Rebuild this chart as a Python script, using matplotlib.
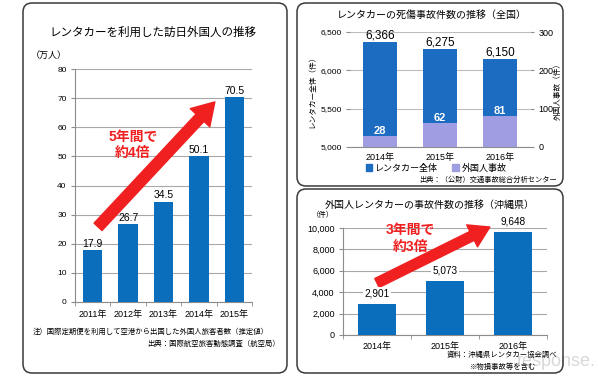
import numpy as np
import matplotlib.pyplot as plt
from matplotlib.patches import FancyBboxPatch, Patch
from matplotlib.transforms import Affine2D
from matplotlib.ticker import FuncFormatter

plt.rcParams['font.family'] = ['Liberation Sans', 'Noto Sans CJK JP', 'DejaVu Sans']

# データ
years_visit = ['2011年', '2012年', '2013年', '2014年', '2015年']
visitors = [17.9, 26.7, 34.5, 50.1, 70.5]  # 万人

years_acc = ['2014年', '2015年', '2016年']
rental_total = [6366, 6275, 6150]   # レンタカー全体
foreign_acc = [28, 62, 81]          # 外国人事故

years_oki = ['2014年', '2015年', '2016年']
okinawa = [2901, 5073, 9648]

W, H = 598, 382
fig = plt.figure(figsize=(W / 100, H / 100), dpi=100)
pix = Affine2D().scale(1 / W, -1 / H).translate(0, 1) + fig.transFigure  # ピクセル座標(左上原点)


def add_ax(x0, y0, x1, y1):
    return fig.add_axes([x0 / W, 1 - y1 / H, (x1 - x0) / W, (y1 - y0) / H])


def ftext(x, y, s, **kw):
    fig.text(x, y, s, transform=pix, **kw)


# 枠
for x0, y0, x1, y1 in [(23, 3, 287, 373), (297, 3, 563, 186), (297, 189, 563, 373)]:
    fig.patches.append(FancyBboxPatch((x0, y0), x1 - x0, y1 - y0,
                                      boxstyle='round,pad=0,rounding_size=9',
                                      transform=pix, fill=False, ec='#3a3a3a', lw=1.1))

red = '#f02020'
arrow_style = 'simple,head_length=1.3,head_width=1.6,tail_width=0.65'

# ---- 左: レンタカーを利用した訪日外国人の推移 ----
ax1 = add_ax(75, 69, 252, 302)
x1 = np.arange(len(visitors))
ax1.bar(x1, visitors, width=0.55, color='#0a6ebd', zorder=3)
ax1.set_xlim(-0.5, len(visitors) - 0.5)
ax1.set_ylim(0, 80)
ax1.set_yticks(range(0, 81, 10))
ax1.set_xticks(x1, years_visit)
ax1.set_xticks(np.arange(-0.5, len(visitors), 1), minor=True)
ax1.grid(axis='y', color='#a8a8a8', lw=0.8, zorder=0)
ax1.tick_params(axis='x', which='major', length=0, pad=6, labelsize=6.5)
ax1.tick_params(axis='x', which='minor', length=3, color='#8c8c8c')
ax1.tick_params(axis='y', length=3, color='#8c8c8c', labelsize=6, pad=3)
for s in ['top', 'right']:
    ax1.spines[s].set_visible(False)
for s in ['left', 'bottom']:
    ax1.spines[s].set_color('#8c8c8c')
for xi, v in zip(x1, visitors):
    ax1.text(xi, v + 0.4, f'{v}', ha='center', va='bottom', fontsize=7.5)
ax1.annotate('', xy=(3.45, 68.7), xytext=(0.15, 25.8), annotation_clip=False,
             arrowprops=dict(arrowstyle=arrow_style, color=red, mutation_scale=12,
                             shrinkA=0, shrinkB=0))
ax1.text(1.14, 53.8, '5年間で\n約4倍', color=red, fontsize=10, ha='center', va='center',
         linespacing=1.2, fontweight='bold')

ftext(153, 33, 'レンタカーを利用した訪日外国人の推移', fontsize=8.3, ha='center', va='center')
ftext(31, 55, '（万人）', fontsize=6.5, ha='left', va='center')
ftext(33, 332, '注）国際定期便を利用して空港から出国した外国人旅客者数（推定値）',
      fontsize=5.3, ha='left', va='center')
ftext(280, 344, '出典：国際航空旅客動態調査（航空局）', fontsize=5.3, ha='right', va='center')

# ---- 右上: レンタカーの死傷事故件数の推移（全国） ----
ax2 = add_ax(350, 32, 530, 147)
x2 = np.arange(len(rental_total))
ax2.bar(x2, rental_total, width=0.57, color='#1c6cc2', zorder=2)
ax2.set_xlim(-0.5, len(rental_total) - 0.5)
ax2.set_ylim(5000, 6500)
ax2.set_yticks([5000, 5500, 6000, 6500])
ax2.yaxis.set_major_formatter(FuncFormatter(lambda v, p: f'{int(v):,}'))
ax2.set_xticks(x2, years_acc)
ax2.set_axisbelow(True)
ax2.grid(axis='y', color='#bdbdbd', lw=0.8)
ax2.tick_params(axis='x', length=0, pad=4, labelsize=6.5)
ax2.tick_params(axis='y', length=3, color='#8c8c8c', labelsize=6, pad=3)
for s in ['top', 'right', 'left']:
    ax2.spines[s].set_visible(False)
ax2.spines['bottom'].set_color('#8c8c8c')
for xi, v in zip(x2, rental_total):
    ax2.text(xi, v + 5, f'{v:,}', ha='center', va='bottom', fontsize=8.5)
ax2.set_ylabel('レンタカー全体（件）', fontsize=5.5, labelpad=3)

ax2t = ax2.twinx()
ax2t.bar(x2, foreign_acc, width=0.57, color='#a19de2', zorder=3)
ax2t.set_ylim(0, 300)
ax2t.set_yticks([0, 100, 200, 300])
ax2t.tick_params(axis='y', length=3, color='#8c8c8c', labelsize=6.5, pad=3)
for s in ['top', 'right', 'left', 'bottom']:
    ax2t.spines[s].set_visible(False)
for xi, v in zip(x2, foreign_acc):
    ax2t.text(xi, v + 1, f'{v}', ha='center', va='bottom', fontsize=8,
              color='white', fontweight='bold')
ax2t.set_ylabel('外国人事故（件）', fontsize=5.5, rotation=90, labelpad=1)

ftext(432, 15, 'レンタカーの死傷事故件数の推移（全国）', fontsize=7.2, ha='center', va='center')
fig.legend([Patch(color='#1c6cc2'), Patch(color='#a19de2')], ['レンタカー全体', '外国人事故'],
           loc='center', bbox_to_anchor=(436 / W, 1 - 168 / H), ncol=2, frameon=False,
           fontsize=6.5, handlelength=0.7, handleheight=0.7, handletextpad=0.3,
           columnspacing=1.6, borderpad=0)
ftext(557, 180, '出典：（公財）交通事故総合分析センター', fontsize=5.2, ha='right', va='center')

# ---- 右下: 外国人レンタカーの事故件数の推移（沖縄県） ----
ax3 = add_ax(343, 228, 547, 335)
x3 = np.arange(len(okinawa))
ax3.bar(x3, okinawa, width=0.57, color='#0a6ebd', zorder=3)
ax3.set_xlim(-0.5, len(okinawa) - 0.5)
ax3.set_ylim(0, 10000)
ax3.set_yticks(range(0, 10001, 2000))
ax3.yaxis.set_major_formatter(FuncFormatter(lambda v, p: f'{int(v):,}'))
ax3.set_xticks(x3, years_oki)
ax3.set_xticks(np.arange(-0.5, len(okinawa), 1), minor=True)
ax3.grid(axis='y', color='#a8a8a8', lw=0.8, zorder=0)
ax3.tick_params(axis='x', which='major', length=0, pad=5, labelsize=6.5)
ax3.tick_params(axis='x', which='minor', length=3, color='#8c8c8c')
ax3.tick_params(axis='y', length=3, color='#8c8c8c', labelsize=6.5, pad=3)
for s in ['top', 'right']:
    ax3.spines[s].set_visible(False)
for s in ['left', 'bottom']:
    ax3.spines[s].set_color('#8c8c8c')
for xi, v in zip(x3, okinawa):
    ax3.annotate(f'{v:,}', (xi, v), xytext=(0, 4), textcoords='offset points',
                 ha='center', va='bottom', fontsize=7.2, zorder=4,
                 bbox=dict(boxstyle='square,pad=0.15', fc='white', ec='none'))
ax3.annotate('', xy=(1.66, 10090), xytext=(0.0, 4860), annotation_clip=False,
             arrowprops=dict(arrowstyle=arrow_style, color=red, mutation_scale=11,
                             shrinkA=0, shrinkB=0))
ax3.text(0.49, 9019, '3年間で\n約3倍', color=red, fontsize=10, ha='center', va='center',
         linespacing=1.2, fontweight='bold', zorder=5)

ftext(430, 205, '外国人レンタカーの事故件数の推移（沖縄県）', fontsize=7.2, ha='center', va='center')
ftext(323, 215, '（件）', fontsize=5.3, ha='center', va='center')
ftext(502, 355, '資料：沖縄県レンタカー協会調べ', fontsize=5.3, ha='center', va='center')
ftext(503, 367, '※物損事故等を含む', fontsize=5.3, ha='center', va='center')

# 透かし (元画像でも注記と重なっている)
ftext(556, 362, 'response.', fontsize=13, ha='center', va='center', color='#c8c8c8',
      alpha=0.7, zorder=0)

fig.savefig('out.png', dpi=100)
